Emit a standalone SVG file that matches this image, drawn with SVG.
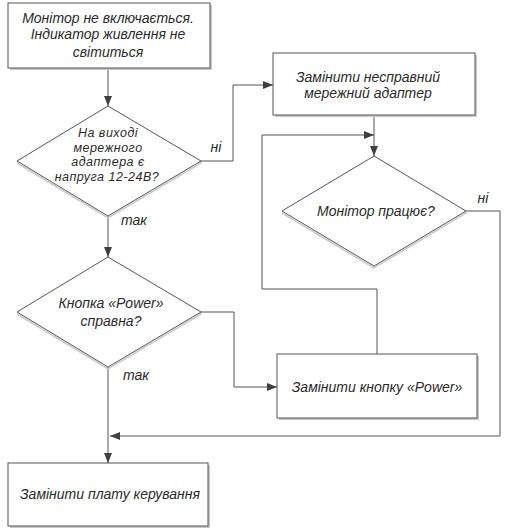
<svg xmlns="http://www.w3.org/2000/svg" width="516" height="532" viewBox="0 0 516 532">
<defs>
<marker id="arr" viewBox="0 0 10 8" refX="10" refY="4" markerWidth="10" markerHeight="8" markerUnits="userSpaceOnUse" orient="auto">
<path d="M0,0 L10,4 L0,8 Z" fill="#404040"/>
</marker>
</defs>
<style>
.box{fill:#fff;stroke:#555;stroke-width:1}
.sh{fill:#c8c8c8;stroke:none}
.dsh{fill:none;stroke:#c8c8c8;stroke-width:1.5}
.t{font-family:"Liberation Sans",Arial,sans-serif;font-style:italic;font-size:14px;fill:#2a2a2a;text-anchor:middle}
.s{font-size:12.5px;letter-spacing:0.5px}
.c{fill:none;stroke:#555;stroke-width:1}
</style>
<rect width="516" height="532" fill="#fff"/>
<g id="connectors">
<path class="c" d="M108,68 V106" marker-end="url(#arr)"/>
<path class="c" d="M201,161 H233 V85 H273" marker-end="url(#arr)"/>
<path class="c" d="M108,216 V257" marker-end="url(#arr)"/>
<path class="c" d="M374,115 V156" marker-end="url(#arr)"/>
<path class="c" d="M377,354 V289 H262 V135 H374" marker-end="url(#arr)"/>
<path class="c" d="M201,312 H234 V387 H277" marker-end="url(#arr)"/>
<path class="c" d="M466,211 H500 V436 H110" marker-end="url(#arr)"/>
<path class="c" d="M108,367 V463" marker-end="url(#arr)"/>
<text class="t" x="216" y="152">ні</text>
<text class="t" x="483" y="203">ні</text>
<text class="t" x="134" y="225">так</text>
<text class="t" x="136" y="380">так</text>
</g>
<g id="n1">
<rect class="sh" x="10" y="5" width="202" height="65"/>
<rect class="box" x="8" y="3" width="202" height="65"/>
<text class="t" x="108" y="23">Монітор не включається.</text>
<text class="t" x="108" y="39">Індикатор живлення не</text>
<text class="t" x="108" y="57">світиться</text>
</g>
<g id="n2">
<path class="dsh" d="M108,108 L201,163 L108,218 L17,163"/>
<path class="box" d="M108,106 L201,161 L108,216 L17,161 Z"/>
<text class="t s" x="108" y="137">На виході</text>
<text class="t s" x="108" y="151.5">мережного</text>
<text class="t s" x="108" y="166">адаптера є</text>
<text class="t s" x="107" y="180.5">напруга 12-24В?</text>
</g>
<g id="n3">
<rect class="sh" x="275" y="55" width="202" height="62"/>
<rect class="box" x="273" y="53" width="202" height="62"/>
<text class="t" x="368" y="82">Замінити несправний</text>
<text class="t" x="368" y="98">мережний адаптер</text>
</g>
<g id="n4">
<path class="dsh" d="M374,158 L466,213 L374,268 L282,213"/>
<path class="box" d="M374,156 L466,211 L374,266 L282,211 Z"/>
<text class="t" x="376" y="216">Монітор працює?</text>
</g>
<g id="n5">
<path class="dsh" d="M108,259 L201,314 L108,369 L17,314"/>
<path class="box" d="M108,257 L201,312 L108,367 L17,312 Z"/>
<text class="t" x="111" y="308">Кнопка «Power»</text>
<text class="t" x="111" y="326">справна?</text>
</g>
<g id="n6">
<rect class="sh" x="279" y="356" width="200" height="64"/>
<rect class="box" x="277" y="354" width="200" height="64"/>
<text class="t" x="377" y="392">Замінити кнопку «Power»</text>
</g>
<g id="n7">
<rect class="sh" x="10" y="465" width="200" height="63"/>
<rect class="box" x="8" y="463" width="200" height="63"/>
<text class="t" x="110" y="499">Замінити плату керування</text>
</g>
</svg>
